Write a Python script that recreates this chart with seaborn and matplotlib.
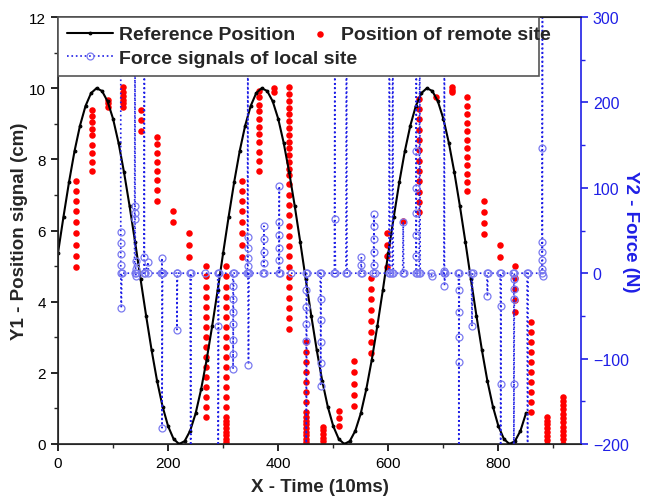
import matplotlib

matplotlib.use("Agg")
import matplotlib.pyplot as plt
import numpy as np
import seaborn as sns
from matplotlib.ticker import MultipleLocator

# reference position (cm), read every 10 time units
ref_t = list(range(0, 860, 10))
ref_y = [
    5.37, 6.39, 7.36, 8.23, 8.95, 9.50, 9.86, 10.00, 9.92, 9.63,
    9.14, 8.46, 7.63, 6.69, 5.68, 4.63, 3.61, 2.64, 1.77, 1.05,
    0.50, 0.14, 0.00, 0.08, 0.37, 0.86, 1.54, 2.37, 3.31, 4.32,
    5.37, 6.39, 7.36, 8.23, 8.95, 9.50, 9.86, 10.00, 9.92, 9.63,
    9.14, 8.46, 7.63, 6.69, 5.68, 4.63, 3.61, 2.64, 1.77, 1.05,
    0.50, 0.14, 0.00, 0.08, 0.37, 0.86, 1.54, 2.37, 3.31, 4.32,
    5.37, 6.39, 7.36, 8.23, 8.95, 9.50, 9.86, 10.00, 9.92, 9.63,
    9.14, 8.46, 7.63, 6.69, 5.68, 4.63, 3.61, 2.64, 1.77, 1.05,
    0.50, 0.14, 0.00, 0.08, 0.37, 0.86,
]

# remote site position: one column of samples per update time
remote_t = [32, 61, 90, 118.5, 151, 180, 209, 238, 269, 305, 335, 365, 393, 420, 451, 482,
            510, 538, 569, 598, 627, 656, 687, 715, 743, 773, 802, 831, 860, 889, 918]
remote_cols = [
    [7.40, 7.10, 6.84, 6.56, 6.23, 5.92, 5.60, 5.29, 4.97],
    [9.39, 9.23, 9.04, 8.85, 8.67, 8.41, 8.17, 7.92, 7.66],
    [9.67, 9.57, 9.47],
    [10.02, 9.90, 9.79, 9.68, 9.57, 9.46],
    [9.39, 9.10, 8.81],
    [8.64, 8.42, 8.17, 7.92, 7.67, 7.41, 7.13, 6.82],
    [6.54, 6.23],
    [5.92, 5.59, 5.26],
    [4.99, 4.71, 4.42, 4.14, 3.86, 3.58, 3.29, 3.01, 2.73, 2.45, 2.16, 1.88, 1.60, 1.32, 1.03, 0.75],
    [4.99, 4.71, 4.42, 4.14, 3.86, 3.58, 3.29, 3.01, 2.73, 2.45, 2.16, 1.88, 1.60, 1.32, 1.03, 0.75,
     0.65, 0.55, 0.45, 0.35, 0.25, 0.15, 0.05],
    [7.40, 7.12, 6.84, 6.56, 6.23, 5.92, 5.60, 5.26],
    [9.93, 9.74, 9.54, 9.35, 9.13, 8.92, 8.71, 8.48, 8.22, 7.94, 7.66],
    [10.0, 9.9],
    [10.02, 9.83, 9.64, 9.45, 9.26, 9.07, 8.88, 8.69, 8.50, 8.31, 8.12, 7.93, 7.74, 7.55,
     7.30, 7.01, 6.72, 6.43, 6.14, 5.85, 5.56, 5.27, 4.98, 4.69, 4.40, 4.11, 3.82, 3.53, 3.24],
    [2.86, 2.58, 2.30, 2.02, 1.73, 1.45, 1.17, 0.89, 0.75, 0.65, 0.55, 0.45, 0.35, 0.25, 0.15, 0.05],
    [0.48, 0.38, 0.28, 0.18, 0.08],
    [0.94, 0.72, 0.51],
    [2.32, 2.01, 1.70, 1.39, 1.08],
    [4.67, 4.37, 4.07, 3.77, 3.46, 3.16, 2.86, 2.55],
    [5.92, 5.60, 5.28, 4.97],
    [6.28],
    [9.70, 9.41, 9.12, 8.83, 8.54, 8.25, 7.96, 7.67, 7.38, 7.09, 6.80, 6.51],
    [9.74],
    [10.02, 9.95, 9.88],
    [9.74, 9.50, 9.26, 9.03, 8.79, 8.55, 8.31, 8.07, 7.84, 7.60, 7.36, 7.12],
    [6.84, 6.53, 6.21, 5.90],
    [5.60, 5.26],
    [4.99, 4.67, 4.36, 4.04, 3.72],
    [3.42, 3.14, 2.86, 2.58, 2.30, 2.01, 1.73, 1.45, 1.17, 0.89],
    [0.77, 0.66, 0.55, 0.44, 0.33, 0.22, 0.11, 0.0],
    [1.33, 1.21, 1.09, 0.97, 0.85, 0.73, 0.61, 0.49, 0.37, 0.25, 0.13, 0.01],
]

# local site force (N), traced in time order
force_t = [
    114, 114, 114, 114, 114, 114, 115, 116,
    139, 140, 140, 140, 140, 141, 141, 141, 142,
    156, 157, 157, 158, 164, 164,
    188, 189, 189, 189, 190,
    216, 216, 217, 240, 241, 242, 267,
    290, 291, 291, 292,
    317, 318, 318, 318, 318, 318, 318, 318, 319,
    344, 345, 345, 345, 345, 345, 345, 346, 347,
    373, 374, 374, 374, 374, 375,
    401, 402, 402, 402, 402, 402, 403, 424,
    450, 451, 451, 451, 451, 451, 452,
    476, 477, 477, 477, 477, 477, 478,
    502, 503, 503, 504, 523, 524, 525,
    550, 551, 551, 552,
    573, 574, 574, 574, 574, 574, 575,
    601, 602, 603, 607, 608, 609, 626, 627, 628,
    650, 651, 651, 651, 651, 651, 651, 652,
    656, 657, 658, 678, 679,
    701, 702, 702, 702, 703,
    727, 728, 728, 728, 728, 728, 729,
    751, 752, 753, 779, 780, 781,
    803, 804, 804, 804, 805,
    827, 828, 828, 828, 828, 828, 829,
    852, 853, 854,
    879, 880, 880, 880, 880, 880, 880, 881,
]
force_n = [
    320, 48, 35, 22, 10, 0, -41, 0,
    0, 320, 79, 71, 63, 14, 5, -3, 0,
    0, 320, 19, 0, 13, 0,
    0, 18, 0, -181, 0,
    0, -66, 0, 0, -230, 0, 0,
    0, -62, -230, 0,
    0, -15, -30, -45, -60, -78, -95, -112, 0,
    0, 320, 42, 30, 18, 8, 0, -107, 0,
    0, 55, 40, 25, 12, 0,
    0, 102, 60, 45, 30, 15, 0, 0,
    0, -20, -40, -60, -79, -230, 0,
    0, -30, -55, -80, -105, -132, 0,
    0, 320, 63, 0, 0, 320, 0,
    0, 19, 10, 0,
    0, 69, 55, 40, 25, 10, 0,
    0, 320, 0, 0, 320, 0, 0, 60, 0,
    0, 320, 143, 100, 70, 45, 20, 0,
    0, 320, 0, 0, -3,
    0, 320, 3, -15, 0,
    0, -20, -45, -75, -104, -230, 0,
    0, -62, 0, 0, -27, 0,
    0, -38, -130, -230, 0,
    0, -7, -18, -30, -130, -230, 0,
    0, -230, 0,
    0, 320, 147, 36, 25, 15, 5, -3,
]

sns.set_style("ticks")
plt.rcParams["font.family"] = ["Liberation Sans", "DejaVu Sans"]

BLUE = "#1f1fe6"

fig = plt.figure(figsize=(6.45, 5.02), dpi=100)
ax1 = fig.add_axes([58 / 645, 57 / 502, 523 / 645, 427 / 502])
ax2 = ax1.twinx()

remote_x = np.concatenate([[t] * len(c) for t, c in zip(remote_t, remote_cols)])
remote_y = np.concatenate(remote_cols)

sns.lineplot(x=ref_t, y=ref_y, ax=ax1, color="black", linewidth=1.5, marker=".",
             markersize=4, markeredgecolor="black", label="Reference Position", zorder=3)
sns.scatterplot(x=remote_x, y=remote_y, ax=ax1, color="red", s=22, linewidth=0,
                label="Position of remote site", zorder=2)
sns.lineplot(x=force_t, y=force_n, ax=ax2, sort=False, estimator=None, color=BLUE,
             linestyle=":", linewidth=1.2, marker="o", markersize=5,
             markerfacecolor="none", markeredgecolor="#7a7af0", markeredgewidth=0.9,
             label="Force signals of local site")

ax1.set_xlim(0, 950)
ax1.set_ylim(0, 12)
ax2.set_ylim(-200, 300)

ax1.xaxis.set_major_locator(MultipleLocator(200))
ax1.xaxis.set_minor_locator(MultipleLocator(100))
ax1.yaxis.set_major_locator(MultipleLocator(2))
ax1.yaxis.set_minor_locator(MultipleLocator(1))
ax2.yaxis.set_major_locator(MultipleLocator(100))
ax2.yaxis.set_minor_locator(MultipleLocator(50))

ax1.tick_params(which="major", direction="out", length=5, width=1.2, labelsize=11, colors="black")
ax1.tick_params(which="minor", direction="out", length=3, width=1.0)
ax2.tick_params(which="major", direction="out", length=5, width=1.2, labelsize=11.5,
                colors=BLUE)
ax2.tick_params(which="minor", direction="out", length=3, width=1.0, colors=BLUE)

for side in ["left", "bottom", "top"]:
    ax1.spines[side].set_linewidth(1.2)
    ax1.spines[side].set_color("#222222")
ax2.spines["right"].set_color(BLUE)
ax2.spines["right"].set_linewidth(1.2)
ax1.spines["right"].set_visible(False)

ax1.set_xlabel("X - Time (10ms)", fontsize=13.5, fontweight="bold", labelpad=6)
ax1.set_ylabel("Y1 - Position signal (cm)", fontsize=13.5, fontweight="bold", labelpad=1)
ax2.set_ylabel("Y2 - Force (N)", fontsize=13.5, fontweight="bold", color=BLUE,
               rotation=270, va="bottom")
ax2.yaxis.set_label_coords(1.078, 0.5)

# legend: framed box with two rows, remote-site entry sits on the first row
h1, l1 = ax1.get_legend_handles_labels()
h2, l2 = ax2.get_legend_handles_labels()
ax1.get_legend().remove()
ax2.get_legend().remove()
leg_font = {"size": 14, "weight": "bold"}
leg1 = ax2.legend([h1[0], h2[0]], [l1[0], l2[0]], loc="upper left",
                  bbox_to_anchor=(0, 0, 0.92, 1), mode="expand", borderaxespad=0,
                  prop=leg_font, numpoints=1, handlelength=2.4, handletextpad=0.3,
                  labelspacing=0.3, borderpad=0.45, fancybox=False, framealpha=1,
                  edgecolor="#555555")
leg1.get_frame().set_linewidth(1.2)
ax2.add_artist(leg1)
leg2 = ax2.legend([h1[1]], [l1[1]], loc="upper left", bbox_to_anchor=(0.466, 1),
                  borderaxespad=0, prop=leg_font, scatterpoints=1, handlelength=1.0,
                  handletextpad=0.55, borderpad=0.45, frameon=False)
leg2.set_zorder(leg1.get_zorder() + 1)

fig.savefig("out.png", dpi=100)
